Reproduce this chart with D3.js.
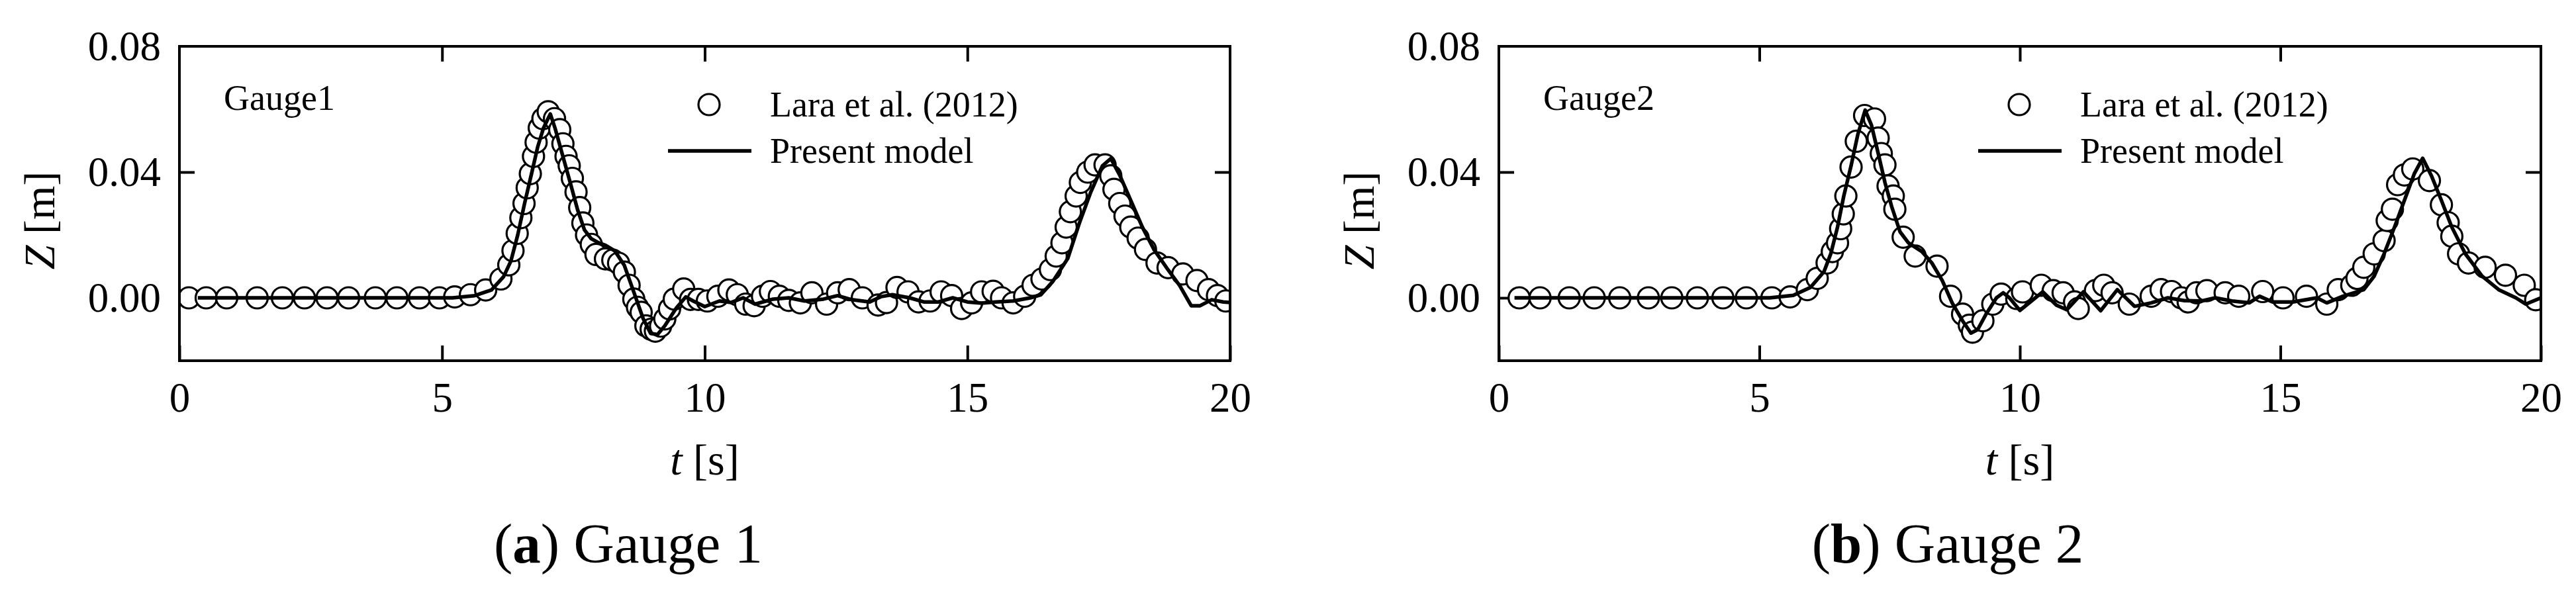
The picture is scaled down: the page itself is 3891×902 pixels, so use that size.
<!DOCTYPE html>
<html>
<head>
<meta charset="utf-8">
<script src="https://cdn.jsdelivr.net/npm/d3@7"></script>
<style>
body { margin: 0; background: #fff; }
text { font-family: "Liberation Serif", "Times New Roman", serif; fill: #000; }
</style>
</head>
<body>
<div id="chart"></div>
<script>
// axis ticks
var x_ticks = [0, 5, 10, 15, 20];
var y_ticks = [0, 0.04, 0.08];
var y_inner_ticks = [0, 0.04];

// gauge 1 - Lara et al. (2012) measurements
var g1_obs_t = [0.18,0.51,0.90,1.48,1.96,2.38,2.81,3.22,3.73,4.14,4.57,4.95,5.24,5.54,5.83,6.12,6.27,6.35,6.43,6.50,6.56,6.62,6.68,6.74,6.79,6.85,6.92,7.02,7.14,7.24,7.30,7.36,7.42,7.48,7.55,7.62,7.68,7.75,7.84,7.93,8.11,8.25,8.36,8.47,8.56,8.65,8.72,8.79,8.88,8.98,9.06,9.16,9.24,9.33,9.42,9.60,9.73,9.88,10.05,10.25,10.46,10.62,10.78,10.94,11.10,11.25,11.42,11.60,11.82,12.04,12.32,12.53,12.75,13.00,13.30,13.46,13.66,13.87,14.07,14.29,14.50,14.70,14.89,15.08,15.27,15.49,15.65,15.87,16.09,16.25,16.42,16.58,16.69,16.80,16.88,16.96,17.07,17.15,17.29,17.43,17.62,17.73,17.79,17.90,18.00,18.11,18.25,18.39,18.61,18.82,19.10,19.37,19.59,19.76,19.92];
var g1_obs_z = [0,0,0,0,0,0,0,0,0,0,0,0,0.0003,0.001,0.0025,0.006,0.0105,0.015,0.0205,0.0255,0.030,0.035,0.0395,0.045,0.0495,0.054,0.057,0.0592,0.057,0.0535,0.049,0.045,0.042,0.038,0.0337,0.0287,0.0238,0.020,0.017,0.0138,0.0124,0.012,0.011,0.0082,0.004,-0.0004,-0.003,-0.0046,-0.0089,-0.010,-0.0106,-0.009,-0.0067,-0.0035,-0.0004,0.0028,-0.0005,-0.0005,-0.001,0.0005,0.0025,0.001,-0.002,-0.0025,0.0005,0.002,0.0005,-0.0008,-0.0016,0.0016,-0.002,0.0016,0.0026,0,-0.0023,-0.0015,0.0033,0.0019,-0.0013,-0.001,0.0019,0.0007,-0.0034,-0.0016,0.0019,0.0021,0,-0.0016,0.0005,0.004,0.006,0.009,0.0133,0.0175,0.0225,0.0274,0.0324,0.0367,0.040,0.0423,0.0423,0.0388,0.0345,0.030,0.026,0.0225,0.019,0.0154,0.0111,0.0096,0.0076,0.0055,0.0026,0.0007,-0.001];

// gauge 1 - present model
var g1_mod_t = [0.35,5.20,5.62,5.94,6.17,6.31,6.44,6.57,6.71,6.82,6.93,7.06,7.15,7.30,7.45,7.58,7.71,7.84,7.98,8.11,8.29,8.47,8.65,8.83,8.97,9.10,9.24,9.46,9.64,9.78,10.00,10.28,10.50,10.73,10.96,11.30,11.60,11.90,12.26,12.53,12.80,13.14,13.36,13.57,13.90,14.17,14.45,14.72,15.00,15.27,15.54,15.87,16.20,16.40,16.63,16.91,17.13,17.35,17.57,17.73,17.90,18.11,18.33,18.55,18.82,19.04,19.26,19.43,19.65,19.87,20.00];
var g1_mod_z = [0,0,0.0007,0.0025,0.0067,0.0117,0.020,0.030,0.040,0.048,0.054,0.0585,0.054,0.045,0.036,0.028,0.0216,0.0188,0.0175,0.0167,0.0149,0.0103,0.0018,-0.0067,-0.0113,-0.0117,-0.0089,-0.0032,0.0003,-0.001,-0.0028,-0.001,-0.0015,0,-0.002,-0.0004,0,-0.001,-0.0004,0.0007,-0.0006,-0.0013,0.0004,0.001,0,-0.0013,-0.0013,0,-0.0013,-0.0017,-0.0013,-0.001,0,0.001,0.0053,0.0125,0.0237,0.0337,0.042,0.0443,0.039,0.031,0.0225,0.0154,0.0089,0.0039,-0.0025,-0.0025,-0.0006,-0.0013,-0.0015];

// gauge 2 - Lara et al. (2012) measurements
var g2_obs_t = [0.39,0.79,1.35,1.83,2.32,2.87,3.32,3.81,4.30,4.75,5.24,5.59,5.92,6.11,6.30,6.40,6.50,6.56,6.61,6.66,6.76,6.86,7.02,7.21,7.28,7.34,7.41,7.47,7.57,7.60,7.76,7.99,8.41,8.67,8.90,9.03,9.09,9.29,9.48,9.64,9.94,10.05,10.41,10.64,10.83,11.05,11.12,11.45,11.61,11.77,12.10,12.52,12.71,12.91,13.10,13.23,13.39,13.59,13.94,14.20,14.66,15.05,15.50,15.89,16.11,16.37,16.47,16.60,16.80,16.99,17.05,17.15,17.25,17.38,17.54,17.86,18.09,18.22,18.29,18.42,18.61,18.93,19.32,19.68,19.90];
var g2_obs_z = [0,0,0,0,0,0,0,0,0,0,0,0.0003,0.0026,0.0062,0.0111,0.0147,0.0175,0.022,0.0267,0.0324,0.0416,0.0498,0.058,0.0569,0.0508,0.0459,0.0423,0.0356,0.0324,0.0282,0.0193,0.0133,0.0101,0.0005,-0.0052,-0.0087,-0.0109,-0.0073,-0.002,0.0012,-0.0002,0.0019,0.004,0.0023,0.0016,-0.0013,-0.0034,0.0023,0.004,0.0016,-0.002,0.0005,0.0026,0.002,0,-0.0013,0.0016,0.0023,0.0016,0.0005,0.002,0,0.0005,-0.002,0.0026,0.004,0.0062,0.0097,0.014,0.0182,0.0246,0.0282,0.036,0.0391,0.041,0.0373,0.0296,0.0239,0.0196,0.014,0.0111,0.0097,0.0072,0.004,-0.0006];

// gauge 2 - present model
var g2_mod_t = [0.30,5.20,5.65,5.98,6.24,6.37,6.50,6.62,6.76,6.89,7.03,7.15,7.28,7.41,7.54,7.70,7.86,8.12,8.31,8.51,8.70,8.90,9.06,9.19,9.35,9.55,9.68,9.80,10.00,10.44,10.70,10.90,11.22,11.55,11.87,12.20,12.52,12.84,13.16,13.49,13.75,14.07,14.40,14.60,14.85,15.24,15.70,15.89,16.20,16.60,16.80,16.99,17.19,17.38,17.57,17.73,17.90,18.09,18.29,18.55,18.87,19.19,19.52,19.71,20.00];
var g2_mod_z = [0,0,0.0008,0.0033,0.0083,0.014,0.0225,0.0324,0.042,0.052,0.0597,0.055,0.046,0.0367,0.029,0.021,0.0175,0.0147,0.0111,0.0055,-0.0016,-0.0073,-0.0112,-0.0101,-0.0052,0,0.0016,0,-0.004,0.0019,-0.0023,-0.0038,0.0019,-0.0041,0.0026,-0.0027,-0.0016,0,-0.0009,-0.001,0,-0.001,-0.0016,0.0005,-0.0013,-0.0013,0,-0.0016,0.0005,0.0026,0.0069,0.014,0.0225,0.031,0.0395,0.0444,0.0388,0.031,0.0225,0.014,0.0069,0.0026,0,-0.002,0];

// labels
var gauge_labels = ["Gauge1", "Gauge2"];
var caption_letters = ["a", "b"];
var caption_names = [" Gauge 1", " Gauge 2"];
var legend_labels = ["Lara et al. (2012)", "Present model"];

// Width and height
var chart_width  = 3891;
var chart_height = 902;
var plot_top     = 70;
var plot_bottom  = 545;

var svg = d3.select("#chart")
    .append("svg")
    .attr("width", chart_width)
    .attr("height", chart_height)
    .style("background", "#fff");

var panels = [
    {left: 271,  right: 1858, legend_x: 800, obs_t: g1_obs_t, obs_z: g1_obs_z, mod_t: g1_mod_t, mod_z: g1_mod_z},
    {left: 2264, right: 3838, legend_x: 786, obs_t: g2_obs_t, obs_z: g2_obs_z, mod_t: g2_mod_t, mod_z: g2_mod_z}
];

panels.forEach(function(p, i){ draw_panel(p, i); });

// style an axis group: remove domain, thick ticks, big serif labels
function style_axis(g, size){
    g.select('.domain').remove();
    g.selectAll('line').attr('stroke', '#000').attr('stroke-width', 4);
    g.selectAll('text')
      .attr('font-size', size)
      .style('font-family', '"Liberation Serif", "Times New Roman", serif');
}

function draw_panel(p, i){
    var x = d3.scaleLinear().domain([0, 20]).range([p.left, p.right]);
    var y = d3.scaleLinear().domain([-0.02, 0.08]).range([plot_bottom, plot_top]);
    var g = svg.append('g');

    // clip marks to the frame
    g.append('clipPath')
      .attr('id', 'clip' + i)
      .append('rect')
      .attr('x', p.left)
      .attr('y', plot_top)
      .attr('width', p.right - p.left)
      .attr('height', plot_bottom - plot_top);

    // axes, ticks pointing inwards
    g.append('g')
      .attr('transform', 'translate(0,' + plot_bottom + ')')
      .call(d3.axisBottom(x).tickValues(x_ticks).tickSizeInner(-23).tickSizeOuter(0)
        .tickPadding(32).tickFormat(d3.format('d')))
      .call(style_axis, 63);

    g.append('g')
      .attr('transform', 'translate(0,' + plot_top + ')')
      .call(d3.axisTop(x).tickValues(x_ticks.slice(1, 4)).tickSizeInner(-23).tickSizeOuter(0)
        .tickFormat(''))
      .call(style_axis, 63);

    g.append('g')
      .attr('transform', 'translate(' + p.left + ',0)')
      .call(d3.axisLeft(y).tickValues(y_ticks).tickSizeInner(0).tickSizeOuter(0)
        .tickPadding(28).tickFormat(d3.format('.2f')))
      .call(style_axis, 63);

    g.append('g')
      .attr('transform', 'translate(' + p.left + ',0)')
      .call(d3.axisLeft(y).tickValues(y_inner_ticks).tickSizeInner(-23).tickSizeOuter(0)
        .tickFormat(''))
      .call(style_axis, 63);

    g.append('g')
      .attr('transform', 'translate(' + p.right + ',0)')
      .call(d3.axisRight(y).tickValues(y_inner_ticks).tickSizeInner(-23).tickSizeOuter(0)
        .tickFormat(''))
      .call(style_axis, 63);

    // measured data as open circles
    var marks = g.append('g').attr('clip-path', 'url(#clip' + i + ')');
    marks.selectAll('circle')
      .data(d3.zip(p.obs_t, p.obs_z))
      .enter()
      .append('circle')
      .attr('cx', function(d){ return x(d[0]); })
      .attr('cy', function(d){ return y(d[1]); })
      .attr('r', 16)
      .attr('fill', '#fff')
      .attr('stroke', '#000')
      .attr('stroke-width', 3.2);

    // model line on top
    var line = d3.line()
      .x(function(d){ return x(d[0]); })
      .y(function(d){ return y(d[1]); });

    marks.append('path')
      .datum(d3.zip(p.mod_t, p.mod_z))
      .attr('d', line)
      .attr('fill', 'none')
      .attr('stroke', '#000')
      .attr('stroke-width', 5.5)
      .attr('stroke-linejoin', 'round');

    // frame
    g.append('rect')
      .attr('x', p.left)
      .attr('y', plot_top)
      .attr('width', p.right - p.left)
      .attr('height', plot_bottom - plot_top)
      .attr('fill', 'none')
      .attr('stroke', '#000')
      .attr('stroke-width', 4);

    // gauge name
    g.append('text')
      .attr('x', p.left + 67)
      .attr('y', 166)
      .attr('font-size', 54)
      .text(gauge_labels[i]);

    // legend
    var lx = p.left + p.legend_x;
    g.append('circle')
      .attr('cx', lx)
      .attr('cy', 158)
      .attr('r', 16)
      .attr('fill', '#fff')
      .attr('stroke', '#000')
      .attr('stroke-width', 3.2);
    g.append('line')
      .attr('x1', lx - 62)
      .attr('x2', lx + 64)
      .attr('y1', 228)
      .attr('y2', 228)
      .attr('stroke', '#000')
      .attr('stroke-width', 5.5);
    g.append('text')
      .attr('x', lx + 92)
      .attr('y', 176)
      .attr('font-size', 54)
      .text(legend_labels[0]);
    g.append('text')
      .attr('x', lx + 92)
      .attr('y', 246)
      .attr('font-size', 54)
      .text(legend_labels[1]);

    // axis titles
    var xt = g.append('text')
      .attr('x', (p.left + p.right) / 2)
      .attr('y', 717)
      .attr('text-anchor', 'middle')
      .attr('font-size', 66);
    xt.append('tspan').attr('font-style', 'italic').text('t');
    xt.append('tspan').text(' [s]');

    var yt = g.append('text')
      .attr('transform', 'translate(' + (p.left - 212) + ',333) rotate(-90)')
      .attr('text-anchor', 'middle')
      .attr('dy', '0.35em')
      .attr('font-size', 66);
    yt.append('tspan').attr('font-style', 'italic').text('Z');
    yt.append('tspan').text(' [m]');

    // caption
    var cap = g.append('text')
      .attr('x', p.left + 678)
      .attr('y', 850)
      .attr('text-anchor', 'middle')
      .attr('font-size', 85);
    cap.append('tspan').text('(');
    cap.append('tspan').attr('font-weight', 'bold').text(caption_letters[i]);
    cap.append('tspan').text(')' + caption_names[i]);
}
</script>
</body>
</html>
